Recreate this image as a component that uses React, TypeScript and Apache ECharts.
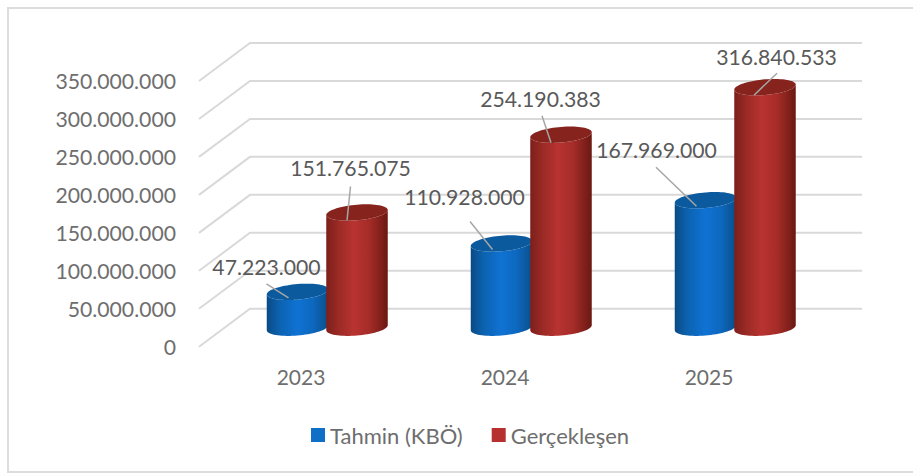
import React, { useEffect, useRef } from "react";
import * as echarts from "echarts";

const categories = ["2023", "2024", "2025"];
const forecastName = "Tahmin (KBÖ)";
const actualName = "Gerçekleşen";
const forecastValues = [47223000, 110928000, 167969000];
const actualValues = [151765075, 254190383, 316840533];
const tickValues = [0, 50000000, 100000000, 150000000, 200000000, 250000000, 300000000, 350000000];

// depth of the 3D floor, px
const DEPTH_X = 51;
const DEPTH_Y = 38;
const RX = 30.75;
const RY = 7.8;
const TILT = 2.5;

// label centre and leader start, relative to cylinder's top centre; leader end too
const forecastLabelPos = [
  { tx: -31, ty: -25, lx: -31, ly: -8, ex: -9, ey: 6 },
  { tx: -37, ty: -46, lx: -31.5, ly: -22, ex: -9, ey: 6 },
  { tx: -49, ty: -50, lx: -49.5, ly: -33, ex: -9, ey: 6 },
];
const actualLabelPos = [
  { tx: -6.5, ty: -44, lx: -6.5, ly: -26, ex: -10, ey: 8 },
  { tx: -20.5, ty: -36, lx: -19, ly: -19, ex: -10, ey: 8 },
  { tx: 11.5, ty: -30, lx: 12, ly: -14, ex: -11, ey: 8 },
];

const fmt = (v: number) => String(Math.round(v)).replace(/\B(?=(\d{3})+(?!\d))/g, ".");

function ellipsePts(cx: number, cy: number, from: number, to: number, n = 36) {
  const pts: number[][] = [];
  for (let i = 0; i <= n; i++) {
    const t = from + ((to - from) * i) / n;
    pts.push([cx + RX * Math.cos(t), cy + RY * Math.sin(t) - TILT * Math.cos(t)]);
  }
  return pts;
}

function cylinderSeries(
  name: string,
  values: number[],
  sideOffset: number,
  legendColor: string,
  stops: [number, string][],
  topColor: string,
  labels: typeof forecastLabelPos
) {
  return {
    type: "custom",
    name,
    itemStyle: { color: legendColor },
    data: values.map((v, i) => [categories[i], v]),
    renderItem: (params: any, api: any) => {
      const i = params.dataIndex;
      const top = api.coord([api.value(0), api.value(1)]);
      const base = api.coord([api.value(0), 0]);
      const cx = base[0] + DEPTH_X / 2 + sideOffset;
      const by = base[1] - DEPTH_Y / 2;
      const ty = top[1] - DEPTH_Y / 2;
      const body = [...ellipsePts(cx, by, 0, Math.PI), ...ellipsePts(cx, ty, Math.PI, 0)];
      const pos = labels[i];
      return {
        type: "group",
        children: [
          {
            type: "polygon",
            shape: { points: body },
            style: {
              fill: {
                type: "linear",
                x: 0,
                y: 0,
                x2: 1,
                y2: 0,
                colorStops: stops.map(([offset, color]) => ({ offset, color })),
              },
            },
          },
          {
            type: "polygon",
            shape: { points: ellipsePts(cx, ty, 0, Math.PI * 2, 72) },
            style: { fill: topColor },
          },
          {
            type: "line",
            shape: { x1: cx + pos.lx, y1: ty + pos.ly, x2: cx + pos.ex, y2: ty + pos.ey },
            style: { stroke: "#a6a6a6", lineWidth: 1.5 },
          },
          {
            type: "text",
            x: cx + pos.tx,
            y: ty + pos.ty,
            style: {
              text: fmt(values[i]),
              fill: "#595959",
              font: "21.2px Lato",
              align: "center",
              verticalAlign: "middle",
            },
          },
        ],
      };
    },
  };
}

export default function App() {
  const ref = useRef<HTMLDivElement>(null);
  useEffect(() => {
    const chart = echarts.init(ref.current!, undefined, { renderer: "svg" });
    chart.setOption({
      animation: false,
      backgroundColor: "#ffffff",
      textStyle: { fontFamily: "Lato" },
      graphic: [
        {
          type: "polyline",
          shape: { points: [[913, 8], [8, 8], [8, 472], [913, 472]] },
          style: { stroke: "#dcdcdc", lineWidth: 2, fill: "none" },
          silent: true,
        },
      ],
      grid: { left: 199, top: 81, width: 612, height: 265.7 },
      legend: {
        data: [forecastName, actualName],
        left: 306,
        top: 419,
        icon: "rect",
        itemWidth: 14,
        itemHeight: 14,
        itemGap: 29,
        textStyle: { fontFamily: "Lato", fontSize: 22, color: "#6e6e6e" },
      },
      xAxis: {
        type: "category",
        data: categories,
        axisLine: { show: false },
        axisTick: { show: false },
        axisLabel: { fontFamily: "Lato", fontSize: 21, color: "#6e6e6e", margin: 19 },
      },
      yAxis: {
        type: "value",
        min: 0,
        max: 350000000,
        interval: 50000000,
        axisLine: { show: false },
        axisTick: { show: false },
        splitLine: { show: false },
        axisLabel: {
          fontFamily: "Lato",
          fontSize: 21.2,
          color: "#6e6e6e",
          margin: 23,
          padding: [2, 0, 0, 0],
          formatter: (v: number) => fmt(v),
        },
      },
      series: [
        {
          type: "custom",
          name: "grid",
          silent: true,
          data: tickValues.map((v) => [categories[0], v]),
          renderItem: (params: any, api: any) => {
            const y = api.coord([0, api.value(1)])[1];
            const cs = params.coordSys;
            return {
              type: "polyline",
              shape: {
                points: [
                  [cs.x, y],
                  [cs.x + DEPTH_X, y - DEPTH_Y],
                  [cs.x + cs.width + DEPTH_X, y - DEPTH_Y],
                ],
              },
              style: { stroke: "#d9d9d9", lineWidth: 2, fill: "none" },
            };
          },
        },
        cylinderSeries(
          forecastName,
          forecastValues,
          -29,
          "#0f6fc6",
          [[0, "#0a4a85"], [0.2, "#0c62ae"], [0.5, "#0f72d4"], [0.75, "#0d68be"], [1, "#0a4f8a"]],
          "#0b5a9e",
          forecastLabelPos
        ),
        cylinderSeries(
          actualName,
          actualValues,
          30.5,
          "#b5302f",
          [[0, "#7d1f1b"], [0.2, "#9b2a25"], [0.45, "#b83331"], [0.7, "#a52c28"], [1, "#6b1812"]],
          "#85231c",
          actualLabelPos
        ),
      ],
    });
    return () => chart.dispose();
  }, []);
  return <div ref={ref} style={{ position: "fixed", left: 0, top: 0, width: 913, height: 474 }} />;
}
